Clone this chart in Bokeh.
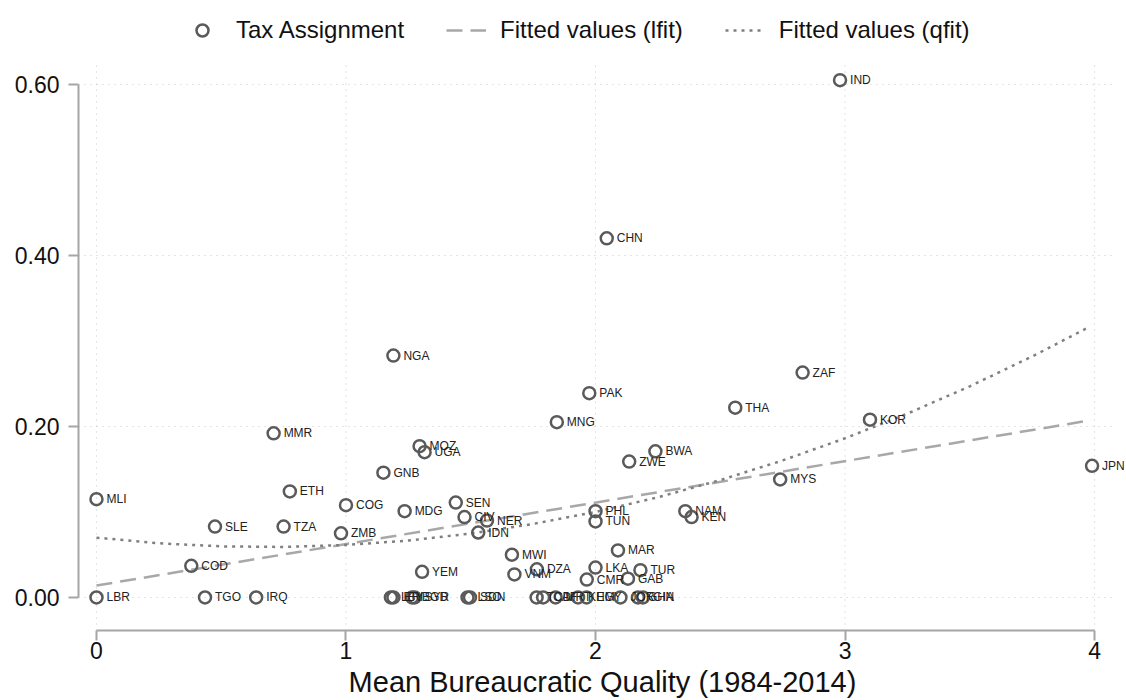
from bokeh.plotting import figure
from bokeh.models import (ColumnDataSource, Range1d, FixedTicker, NumeralTickFormatter,
                          Legend, LegendItem)
from bokeh.core.properties import value
from bokeh.embed import file_html
from bokeh.resources import INLINE

# ---- data ----
countries = ["IND", "CHN", "NGA", "PAK", "ZAF", "THA", "KOR", "MNG", "MMR", "MOZ",
             "UGA", "BWA", "ZWE", "GNB", "JPN", "MYS", "ETH", "MLI", "COG", "SEN",
             "MDG", "NAM", "KEN", "PHL", "TUN", "CIV", "NER", "IDN", "SLE", "TZA",
             "ZMB", "MWI", "MAR", "COD", "YEM", "VNM", "DZA", "LKA", "TUR", "CMR",
             "GAB", "LBR", "TGO", "IRQ", "LBY", "ERI", "BGD", "SYR", "LSO", "SDN",
             "TCD", "CAF", "MRT", "KHM", "EGY", "JOR", "GHA", "GIN"]
bureau_quality = [2.98, 2.045, 1.19, 1.975, 2.83, 2.56, 3.10, 1.845, 0.71, 1.295,
                  1.315, 2.24, 2.135, 1.15, 3.99, 2.74, 0.775, 0.0, 1.0, 1.44,
                  1.235, 2.36, 2.385, 2.0, 2.0, 1.475, 1.565, 1.53, 0.475, 0.75,
                  0.98, 1.665, 2.09, 0.38, 1.305, 1.675, 1.765, 2.0, 2.18, 1.965,
                  2.13, 0.0, 0.435, 0.64, 1.18, 1.19, 1.265, 1.275, 1.487, 1.497,
                  1.764, 1.79, 1.84, 1.93, 1.964, 2.10, 2.17, 2.19]
tax_assignment = [0.605, 0.420, 0.283, 0.239, 0.263, 0.222, 0.208, 0.205, 0.192, 0.177,
                  0.170, 0.171, 0.159, 0.146, 0.154, 0.138, 0.124, 0.115, 0.108, 0.111,
                  0.101, 0.101, 0.094, 0.101, 0.089, 0.094, 0.090, 0.076, 0.083, 0.083,
                  0.075, 0.050, 0.055, 0.037, 0.030, 0.027, 0.033, 0.035, 0.032, 0.021,
                  0.022, 0.0, 0.0, 0.0, 0.0, 0.0, 0.0, 0.0, 0.0, 0.0,
                  0.0, 0.0, 0.0, 0.0, 0.0, 0.0, 0.0, 0.0]

lfit_x = [0.0, 3.98]
lfit_y = [0.014, 0.207]

qfit_x = [0.0, 0.25, 0.5, 0.75, 1.0, 1.25, 1.5, 1.75, 2.0, 2.25, 2.5, 2.75,
          3.0, 3.25, 3.5, 3.75, 3.98]
qfit_y = [0.070, 0.0634, 0.0598, 0.0591, 0.0614, 0.0666, 0.0748, 0.0860, 0.1001,
          0.1172, 0.1373, 0.1603, 0.1862, 0.2151, 0.2470, 0.2819, 0.3166]

x_ticks = [0, 1, 2, 3, 4]
y_ticks = [0.0, 0.2, 0.4, 0.6]

FONT = "Liberation Sans"

# plot-region extent (in data units) used for the grid lines
X_LO, X_HI = -0.072, 4.072
Y_LO, Y_HI = -0.0386, 0.6257

src = ColumnDataSource(dict(x=bureau_quality, y=tax_assignment, name=countries))

p = figure(width=1126, height=700, output_backend="svg", toolbar_location=None,
           x_range=Range1d(X_LO, 4.128), y_range=Range1d(Y_LO, 0.6982),
           min_border_left=78, min_border_right=0, min_border_top=0,
           min_border_bottom=70)
p.outline_line_color = None
p.background_fill_color = "white"
p.xgrid.visible = False
p.ygrid.visible = False

# dotted grid lines
grid_col = "#c8c8c8"
p.segment(x0=x_ticks, x1=x_ticks, y0=[Y_LO] * len(x_ticks), y1=[Y_HI] * len(x_ticks),
          line_color=grid_col, line_width=1, line_dash="1 5")
p.segment(x0=[X_LO] * len(y_ticks), x1=[X_HI] * len(y_ticks), y0=y_ticks, y1=y_ticks,
          line_color=grid_col, line_width=1, line_dash="1 5")

# axes
p.xaxis.ticker = FixedTicker(ticks=x_ticks)
p.yaxis.ticker = FixedTicker(ticks=y_ticks)
p.yaxis.formatter = NumeralTickFormatter(format="0.00")
p.xaxis.bounds = (0, 4)
p.yaxis.bounds = (0, 0.6)
for ax in (p.xaxis, p.yaxis):
    ax.axis_line_color = "#a6a6a6"
    ax.axis_line_width = 2
    ax.major_tick_line_color = "#a6a6a6"
    ax.major_tick_line_width = 2
    ax.major_tick_out = 10
    ax.major_tick_in = 0
    ax.minor_tick_line_color = None
    ax.major_label_text_font = FONT
    ax.major_label_text_font_size = "23px"
    ax.major_label_text_color = "#111111"
p.xaxis.major_label_standoff = 1
p.yaxis.major_label_standoff = 9
p.xaxis.axis_label = "Mean Bureaucratic Quality (1984-2014)"
p.xaxis.axis_label_text_font = FONT
p.xaxis.axis_label_text_font_size = "29px"
p.xaxis.axis_label_text_font_style = "normal"
p.xaxis.axis_label_text_color = "#111111"
p.xaxis.axis_label_standoff = 4

# fitted lines
r_l = p.line(lfit_x, lfit_y, line_color="#a8a8a8", line_width=2.5, line_dash="16 8")
r_q = p.line(qfit_x, qfit_y, line_color="#808080", line_width=2.5, line_dash="3 5")

# points
r_s = p.scatter("x", "y", source=src, marker="circle", size=12, fill_color=None,
                line_color="#5a5a5a", line_width=2.5)
p.text("x", "y", text="name", source=src, x_offset=10, text_baseline="middle",
       text_align="left", text_font=value(FONT), text_font_size="12px",
       text_color="#222222")

legend = Legend(items=[LegendItem(label="Tax Assignment", renderers=[r_s]),
                       LegendItem(label="Fitted values (lfit)", renderers=[r_l]),
                       LegendItem(label="Fitted values (qfit)", renderers=[r_q])],
                orientation="horizontal", location=(104, 585),
                label_text_font=FONT, label_text_font_size="24px",
                label_text_color="#111111",
                glyph_width=40, glyph_height=30, label_standoff=14, spacing=42,
                border_line_color=None, background_fill_alpha=0,
                padding=4, margin=0)
p.add_layout(legend, "center")

open("out.html", "w").write(file_html(p, INLINE))
